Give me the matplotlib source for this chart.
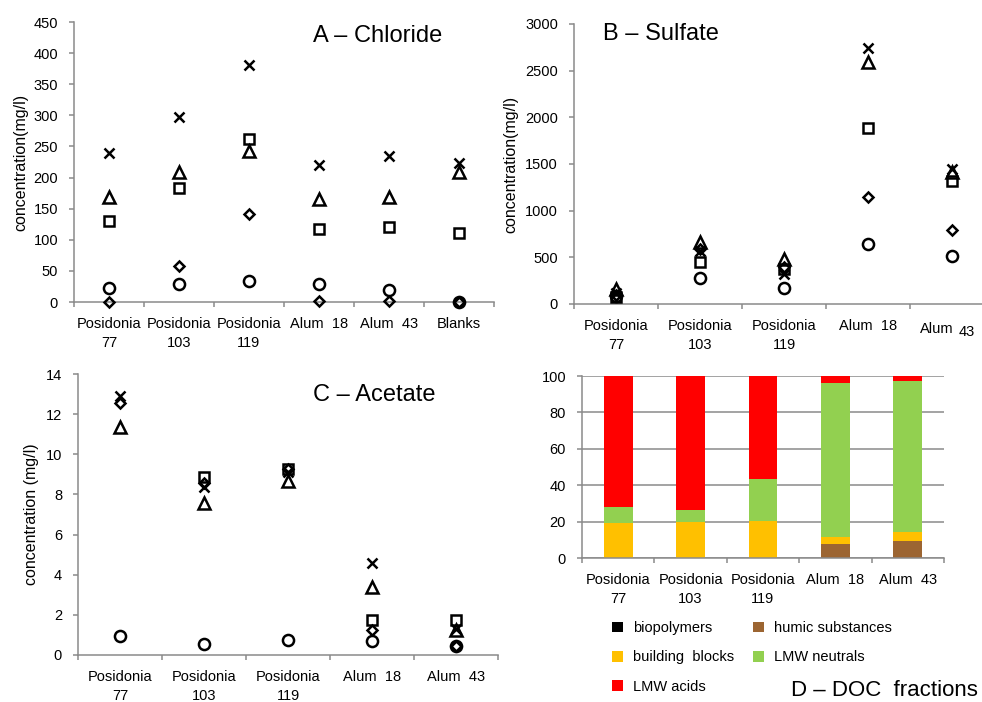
import numpy as np
import matplotlib.pyplot as plt
from matplotlib.patches import Patch

plt.rcParams["font.family"] = ["Liberation Sans", "DejaVu Sans"]

W, H = 982, 702
AXIS_GREY = "#8a8a8a"

# sampling sites
sites_a = ["Posidonia\n77", "Posidonia\n103", "Posidonia\n119", "Alum  18", "Alum  43", "Blanks"]
sites = ["Posidonia\n77", "Posidonia\n103", "Posidonia\n119", "Alum  18", "Alum  43"]

# A - chloride (mg/l), one list per marker series
cl_cross = [240, 297, 381, 220, 235, 223]
cl_tri = [169, 209, 243, 166, 169, 209]
cl_square = [130, 183, 262, 118, 121, 111]
cl_diamond = [0, 58, 142, 1, 1, 0]
cl_circle = [23, 29, 33, 29, 19, 0]

# B - sulfate (mg/l)
so4_cross = [120, 570, 318, 2746, 1445]
so4_tri = [160, 664, 486, 2592, 1416]
so4_square = [80, 450, 379, 1881, 1319]
so4_diamond = [100, 585, 397, 1144, 797]
so4_circle = [85, 279, 175, 647, 511]

# C - acetate (mg/l)
ac_cross = [12.88, 8.36, 9.14, 4.56, 1.31]
ac_tri = [11.38, 7.59, 8.67, 3.40, 1.26]
ac_square = [np.nan, 8.89, 9.25, 1.76, 1.76]
ac_diamond = [12.55, 8.59, 9.25, 1.26, 0.45]
ac_circle = [0.95, 0.57, 0.75, 0.72, 0.45]

# D - DOC fractions (%)
doc_labels = ["biopolymers", "humic substances", "building  blocks", "LMW neutrals", "LMW acids"]
doc_colors = ["#000000", "#9c6532", "#ffc000", "#92d050", "#ff0000"]
doc_biopolymers = [0, 0, 0, 0, 0]
doc_humic = [0, 0, 0, 7.9, 9.3]
doc_building = [19.2, 19.8, 20.3, 3.5, 5.0]
doc_neutrals = [8.8, 6.4, 22.9, 84.8, 82.8]
doc_acids = [72.0, 73.8, 56.8, 3.8, 2.9]

MARKERS = {
    "circle": dict(marker="o", ms=8.0),
    "diamond": dict(marker="D", ms=5.6),
    "square": dict(marker="s", ms=7.6),
    "tri": dict(marker="^", ms=8.0),
    "cross": dict(marker="x", ms=7.6),
}


def px_rect(left, top, width, height):
    return [left / W, 1 - (top + height) / H, width / W, height / H]


def style_axes(ax, labels, ymax, ystep):
    n = len(labels)
    ax.set_xlim(-0.5, n - 0.5)
    ax.set_ylim(0, ymax)
    ax.set_yticks(np.arange(0, ymax + ystep / 2, ystep))
    ax.set_xticks(range(n))
    ax.set_xticklabels(labels, linespacing=1.45)
    ax.set_xticks(np.arange(-0.5, n, 1.0), minor=True)
    for s in ("top", "right"):
        ax.spines[s].set_visible(False)
    for s in ("left", "bottom"):
        ax.spines[s].set_color(AXIS_GREY)
        ax.spines[s].set_linewidth(1.1)
    ax.tick_params(axis="x", which="major", length=0, pad=11, labelsize=10.5)
    ax.tick_params(axis="x", which="minor", length=3.5, width=1.1, color=AXIS_GREY)
    ax.tick_params(axis="y", length=3.5, width=1.1, color=AXIS_GREY, pad=8, labelsize=10.5)


def scatter_series(ax, series):
    x = np.arange(len(series["circle"]))
    for key in ("circle", "diamond", "square", "tri", "cross"):
        m = MARKERS[key]
        ax.plot(x, series[key], linestyle="none", marker=m["marker"], ms=m["ms"],
                mfc="none", mec="black", mew=1.8, clip_on=False, zorder=3)


fig = plt.figure(figsize=(W / 100, H / 100), dpi=100)

# A - chloride
ax_a = fig.add_axes(px_rect(74, 22, 420, 280))
scatter_series(ax_a, dict(circle=cl_circle, diamond=cl_diamond, square=cl_square,
                          tri=cl_tri, cross=cl_cross))
style_axes(ax_a, sites_a, 450, 50)
ax_a.set_ylabel("concentration(mg/l)", fontsize=11.5)
ax_a.yaxis.set_label_coords(-0.108, 0.5)
fig.text(313 / W, 1 - 36 / H, "A – Chloride", fontsize=17, va="center", ha="left")

# B - sulfate
ax_b = fig.add_axes(px_rect(574, 24, 420, 280))
scatter_series(ax_b, dict(circle=so4_circle, diamond=so4_diamond, square=so4_square,
                          tri=so4_tri, cross=so4_cross))
style_axes(ax_b, sites[:4] + [""], 3000, 500)
ax_b.set_ylabel("concentration(mg/l)", fontsize=11.5)
ax_b.yaxis.set_label_coords(-0.133, 0.5)
lbl_tr = ax_b.get_xaxis_transform()
ax_b.text(3.82, -0.09, "Alum", transform=lbl_tr, ha="center", va="center", fontsize=10.5)
ax_b.text(4.08, -0.1, "43", transform=lbl_tr, ha="left", va="center", fontsize=10.5)
fig.text(603 / W, 1 - 34 / H, "B – Sulfate", fontsize=17, va="center", ha="left")

# C - acetate
ax_c = fig.add_axes(px_rect(78, 374, 420, 281))
scatter_series(ax_c, dict(circle=ac_circle, diamond=ac_diamond, square=ac_square,
                          tri=ac_tri, cross=ac_cross))
style_axes(ax_c, sites, 14, 2)
ax_c.set_ylabel("concentration (mg/l)", fontsize=11.5)
ax_c.yaxis.set_label_coords(-0.093, 0.5)
fig.text(313 / W, 1 - 395 / H, "C – Acetate", fontsize=17, va="center", ha="left")

# D - DOC fractions, stacked
ax_d = fig.add_axes(px_rect(582, 376, 362, 182))
xd = np.arange(len(sites))
bottom = np.zeros(len(sites))
handles = []
for vals, lab, col in zip([doc_biopolymers, doc_humic, doc_building, doc_neutrals, doc_acids],
                          doc_labels, doc_colors):
    ax_d.bar(xd, vals, width=0.4, bottom=bottom, color=col, zorder=2)
    bottom += np.array(vals)
    handles.append(Patch(facecolor=col, label=lab))
style_axes(ax_d, sites, 100, 20)
ax_d.yaxis.grid(True, color=AXIS_GREY, linewidth=1.1, zorder=0)
ax_d.set_axisbelow(True)

# legend ordered in two columns
order = [0, 2, 4, 1, 3]
ax_d.legend([handles[i] for i in order], [doc_labels[i] for i in order],
            ncol=2, loc="upper left", bbox_to_anchor=(612 / W, 1 - 621 / H),
            bbox_transform=fig.transFigure, frameon=False, fontsize=10.5,
            handlelength=0.75, handleheight=0.75, handletextpad=0.7,
            labelspacing=1.05, columnspacing=1.3, borderpad=0, borderaxespad=0)
fig.text(978 / W, 1 - 690 / H, "D – DOC  fractions", fontsize=16, va="center", ha="right")

fig.savefig("out.png", dpi=100)
